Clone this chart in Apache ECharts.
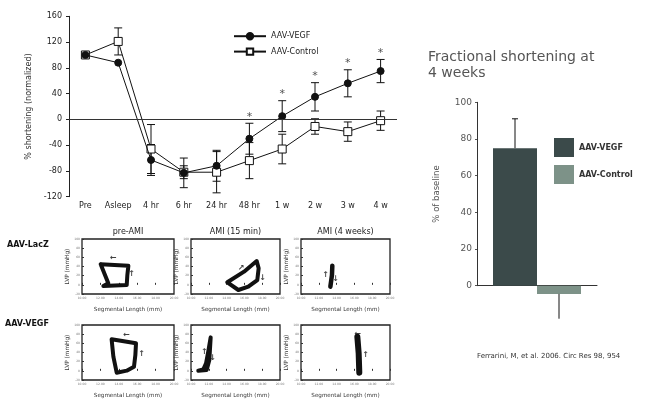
<!DOCTYPE html>
<html><head><meta charset="utf-8">
<script src="https://cdn.jsdelivr.net/npm/echarts@6/dist/echarts.min.js"></script>
<style>html,body{margin:0;padding:0;background:#fff}#c{width:645px;height:401px}</style>
</head><body><div id="c"></div>
<script>
// ---- main time-course chart ----
const categories = ['Pre','Asleep','4 hr','6 hr','24 hr','48 hr','1 w','2 w','3 w','4 w'];
const yTicks = [-120,-80,-40,0,40,80,120,160];
const vegf = [100, 88, -63, -83, -72, -30, 5, 35, 56, 75];
const vegfErr = [0, 0, 24, 23, 24, 24, 24, 22, 21, 18];
const control = [100, 121, -46, -82, -82, -64, -46, -11, -19, -2];
const controlErr = [0, 21, 38, 10, 32, 28, 23, 12, 15, 15];
const significant = [0,0,0,0,0,1,1,1,1,1];

// ---- bar chart (4 weeks) ----
const barNames = ['AAV-VEGF','AAV-Control'];
const barValues = [75, -4.5];
const barErrUp = [16, 0];
const barErrDown = [0, 13.5];
const barTicks = [0,20,40,60,80,100];

// ---- PV loops (Segmental Length, LVP) ----
const panelTitles = ['pre-AMI','AMI (15 min)','AMI (4 weeks)'];
const rowLabels = ['AAV-LacZ','AAV-VEGF'];
const loopLacZPre = [[12.03,44.7],[15.04,41.8],[14.93,21.5],[14.86,-0.4],[12.32,-2.5],[12.86,3.3],[12.03,44.7]];
const loopLacZ15 = [[14.08,5.5],[15.96,28.7],[17.38,52],[17.60,36],[17.45,10.5],[16.44,-4],[15.32,-11.3],[14.08,5.5]];
const loopLacZ4w = [[13.52,41.8],[13.48,21.5],[13.30,-4]];
const loopVegfPre = [[13.22,68.7],[15.87,60],[15.80,34.5],[15.65,9.1],[14.86,0.4],[13.77,-4],[13.41,30.9],[13.22,68.7]];
const loopVegf15 = [[10.82,0.4],[11.76,1.8],[12.06,23.6],[12.21,73],[11.95,43],[11.69,16.4],[11.39,3.3],[10.82,0.4]];
const loopVegf4w = [[16.33,74.5],[16.48,38.2],[16.55,-4]];
const arrowsLacZPre = [['←',13.41,57.8],['↑',15.4,22.9]];
const arrowsLacZ15 = [['↗',15.62,37.5],['↓',18.05,14.2]];
const arrowsLacZ4w = [['↑',12.77,21.5],['↓',13.9,12.7]];
const arrowsVegfPre = [['←',14.86,78.2],['↑',16.49,36]];
const arrowsVegf15 = [['↑',11.5,41.8],['↓',12.43,28.7]];
const arrowsVegf4w = [['←',16.4,79.6],['↑',17.27,34.5]];

const loops = [loopLacZPre, loopLacZ15, loopLacZ4w, loopVegfPre, loopVegf15, loopVegf4w];
const loopArrows = [arrowsLacZPre, arrowsLacZ15, arrowsLacZ4w, arrowsVegfPre, arrowsVegf15, arrowsVegf4w];
const loopWidths = [4,4,4.5,4,4,6];

const FONT = 'DejaVu Sans';
const chart = echarts.init(document.getElementById('c'), null, {renderer:'canvas'});

function errRender(params, api){
  const x = api.value(0), lo = api.value(1), hi = api.value(2);
  if (hi === lo) return null;
  const p1 = api.coord([x, hi]), p2 = api.coord([x, lo]);
  const w = 4;
  const st = {stroke:'#111', lineWidth:1};
  return {type:'group', children:[
    {type:'line', shape:{x1:p1[0],y1:p1[1],x2:p2[0],y2:p2[1]}, style:st},
    {type:'line', shape:{x1:p1[0]-w,y1:p1[1],x2:p1[0]+w,y2:p1[1]}, style:st},
    {type:'line', shape:{x1:p2[0]-w,y1:p2[1],x2:p2[0]+w,y2:p2[1]}, style:st}
  ]};
}

const grids = [
  {left:69, top:16.3, width:328, height:180.4},   // main
  {left:477, top:102.3, width:120, height:183.4}  // bar
];
const panelLefts = [82, 191, 301];
const panelWidths = [92, 89, 89];
const panelTops = [239, 325];
for (let r=0;r<2;r++) for (let c=0;c<3;c++) {
  grids.push({left:panelLefts[c], top:panelTops[r], width:panelWidths[c], height:55,
    show:true, borderColor:'#222', borderWidth:1.3, backgroundColor:'#fff'});
}

const xAxes = [
  {gridIndex:0, type:'category', data:categories, boundaryGap:true,
   axisLine:{show:false}, axisTick:{show:false},
   axisLabel:{color:'#222', fontSize:8, fontFamily:FONT, margin:5, interval:0}},
  {gridIndex:1, type:'category', data:['4 weeks'],
   axisLine:{show:true, lineStyle:{color:'#333', width:1}}, axisTick:{show:false}, axisLabel:{show:false}}
];
const yAxes = [
  {gridIndex:0, type:'value', min:yTicks[0], max:yTicks[yTicks.length-1], interval:40,
   axisLine:{show:true, lineStyle:{color:'#222', width:1}},
   axisTick:{show:true, length:3, lineStyle:{color:'#222'}},
   splitLine:{show:false},
   axisLabel:{color:'#222', fontSize:8, fontFamily:FONT, margin:7},
   name:'% shortening (normalized)', nameLocation:'middle', nameGap:27,
   nameTextStyle:{color:'#333', fontSize:8, fontFamily:FONT}},
  {gridIndex:1, type:'value', min:barTicks[0], max:barTicks[barTicks.length-1], interval:20,
   axisLine:{show:true, lineStyle:{color:'#333', width:1}},
   axisTick:{show:true, length:2, lineStyle:{color:'#555'}},
   splitLine:{show:false},
   axisLabel:{color:'#555', fontSize:9, fontFamily:FONT, margin:5},
   name:'% of baseline', nameLocation:'middle', nameGap:36,
   nameTextStyle:{color:'#555', fontSize:8.5, fontFamily:FONT}}
];
for (let i=0;i<6;i++) {
  xAxes.push({gridIndex:i+2, type:'value', min:10, max:20, interval:2,
    axisLine:{show:false}, splitLine:{show:false},
    axisTick:{show:true, inside:true, length:2, lineStyle:{color:'#333'}},
    axisLabel:{fontSize:3, color:'#777', margin:3, formatter:v=>v.toFixed(2)},
    name:'Segmental Length (mm)', nameLocation:'middle', nameGap:13,
    nameTextStyle:{color:'#333', fontSize:5.6, fontFamily:FONT}});
  yAxes.push({gridIndex:i+2, type:'value', min:-20, max:100, interval:20,
    axisLine:{show:false}, splitLine:{show:false},
    axisTick:{show:true, inside:true, length:2, lineStyle:{color:'#333'}},
    axisLabel:{fontSize:3, color:'#777', margin:2},
    name:'LVP (mmHg)', nameLocation:'middle', nameGap:6,
    nameTextStyle:{color:'#333', fontSize:5.8, fontFamily:FONT}});
}

const series = [
  {type:'custom', name:'errV', xAxisIndex:0, yAxisIndex:0, z:1, renderItem:errRender,
   encode:{x:0, y:[1,2]},
   data:vegf.map((v,i)=>[i, v-vegfErr[i], v+vegfErr[i]])},
  {type:'custom', name:'errC', xAxisIndex:0, yAxisIndex:0, z:1, renderItem:errRender,
   encode:{x:0, y:[1,2]},
   data:control.map((v,i)=>[i, v-controlErr[i], v+controlErr[i]])},
  {type:'line', name:'AAV-Control', xAxisIndex:0, yAxisIndex:0, z:3, data:control,
   symbol:'rect', symbolSize:8, showAllSymbol:true,
   lineStyle:{color:'#111', width:1}, itemStyle:{color:'#fff', borderColor:'#111', borderWidth:1}},
  {type:'line', name:'AAV-VEGF', xAxisIndex:0, yAxisIndex:0, z:4, data:vegf,
   symbol:'circle', symbolSize:7, showAllSymbol:true,
   lineStyle:{color:'#111', width:1}, itemStyle:{color:'#111', borderColor:'#111', borderWidth:1},
   markLine:{silent:true, symbol:'none', label:{show:false}, animation:false,
     lineStyle:{color:'#333', width:1, type:'solid'}, data:[{yAxis:0}]}},
  {type:'scatter', name:'stars', xAxisIndex:0, yAxisIndex:0, symbolSize:0, silent:true,
   data:vegf.map((v,i)=>significant[i] ? [i, v+vegfErr[i]] : null).filter(d=>d),
   label:{show:true, position:'top', distance:1, formatter:'*', fontSize:11, color:'#222', fontFamily:FONT}},
  // bar chart
  {type:'bar', name:'barVEGF', xAxisIndex:1, yAxisIndex:1, data:[barValues[0]], barWidth:44, barGap:'0%',
   clip:false, itemStyle:{color:'#3b4a4a'}},
  {type:'bar', name:'barControl', xAxisIndex:1, yAxisIndex:1, data:[barValues[1]], barWidth:44, barGap:'0%',
   clip:false, itemStyle:{color:'#7d9288'}},
  {type:'custom', name:'barErr', xAxisIndex:1, yAxisIndex:1, clip:false, z:5,
   encode:{x:0, y:[1,2]},
   data:barValues.map((v,i)=>[0, v-barErrDown[i], v+barErrUp[i], i]),
   renderItem:function(params, api){
     const i = api.value(3);
     const lo = api.value(1), hi = api.value(2);
     const p1 = api.coord([0, hi]), p2 = api.coord([0, lo]);
     const off = i===0 ? -22 : 22;
     const x = p1[0] + off;
     const kids = [{type:'line', shape:{x1:x,y1:p1[1],x2:x,y2:p2[1]}, style:{stroke:'#111', lineWidth:1}}];
     if (barErrUp[i] > 0) kids.push({type:'line', shape:{x1:x-3,y1:p1[1],x2:x+3,y2:p1[1]}, style:{stroke:'#111', lineWidth:1}});
     return {type:'group', children:kids};
   }}
];
for (let i=0;i<6;i++) {
  series.push({type:'line', xAxisIndex:i+2, yAxisIndex:i+2, data:loops[i], symbol:'none',
    lineStyle:{color:'#111', width:loopWidths[i], join:'round', cap:'round'}, silent:true});
  series.push({type:'scatter', xAxisIndex:i+2, yAxisIndex:i+2, symbolSize:0, silent:true,
    data:loopArrows[i].map(a=>({name:a[0], value:[a[1],a[2]]})),
    label:{show:true, position:'inside', formatter:p=>p.name, fontSize:8, fontWeight:'bold', color:'#111', fontFamily:FONT}});
}

const titles = [
  {text:'Fractional shortening at\n4 weeks', left:428, top:49, padding:0,
   textStyle:{fontFamily:FONT, fontSize:14, fontWeight:'normal', color:'#555', lineHeight:16.5}},
  {text:'Ferrarini, M, et al. 2006. Circ Res 98, 954', left:477, top:353, padding:0,
   textStyle:{fontFamily:FONT, fontSize:7, fontWeight:'normal', color:'#333'}}
];
const titleCenters = [128, 235.5, 345.5];
panelTitles.forEach((t,c)=>titles.push({text:t, left:titleCenters[c], top:228, padding:0, textAlign:'center',
  textStyle:{fontFamily:FONT, fontSize:8, fontWeight:'normal', color:'#222'}}));
const rowTops = [241, 320];
const rowLefts = [7, 5];
rowLabels.forEach((t,r)=>titles.push({text:t, left:rowLefts[r], top:rowTops[r], padding:0,
  textStyle:{fontFamily:FONT, fontSize:8, fontWeight:'bold', color:'#111'}}));

chart.setOption({
  animation:false,
  textStyle:{fontFamily:FONT},
  title:titles,
  grid:grids,
  xAxis:xAxes,
  yAxis:yAxes,
  legend:[
    {data:['AAV-VEGF','AAV-Control'], orient:'vertical', left:233, top:32, itemWidth:32, itemHeight:8, itemGap:7,
     padding:0, selectedMode:false, textStyle:{fontSize:8, color:'#222', fontFamily:FONT}},
    {data:['barVEGF','barControl'], orient:'vertical', left:554, top:138, itemWidth:20, itemHeight:19, itemGap:8,
     padding:0, icon:'rect', selectedMode:false, formatter:n=>n==='barVEGF'?barNames[0]:barNames[1],
     textStyle:{fontSize:8, fontWeight:'bold', color:'#333', fontFamily:FONT}}
  ],
  series:series
});
</script></body></html>
